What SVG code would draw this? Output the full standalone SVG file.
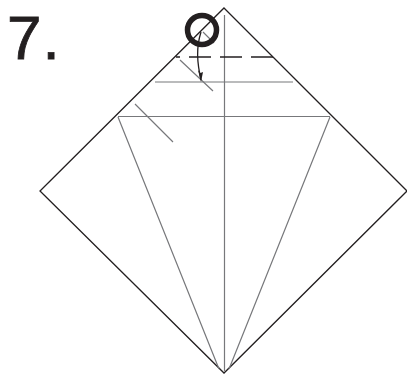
<svg xmlns="http://www.w3.org/2000/svg" width="407" height="374" viewBox="0 0 407 374">
<style>
.o{fill:none;stroke:#231f20;stroke-width:1.3}
.g{fill:none;stroke:#77787b;stroke-width:1.2}
</style>
<rect width="407" height="374" fill="#fff"/>
<g id="connectors">
<path id="outline" class="o" d="M224 8L407 191L224 373L40 191Z"/>
<path class="g" d="M224.500 15V371M118 116.500H330M155 82H293"/>
<path class="g" d="M118 117L219 369M330 117L229 369"/>
<path class="g" d="M135 104L173 142M180 60L213 91M203 32L214 43"/>
<path class="o" d="M176 57H180M189 57H211M220 57H242M251 57H273"/>
<path class="o" d="M201 32C196 48 197 62 201 80"/>
<path fill="#231f20" d="M201 82L198 70L200.500 73L203 72Z"/>
</g>
<g id="circle"><circle cx="202" cy="30" r="14.500" fill="none" stroke="#231f20" stroke-width="5.500"/></g>
<g id="label"><text x="7" y="58.500" font-family="Liberation Sans, Arial, sans-serif" font-size="62" letter-spacing="1" fill="#231f20" stroke="#231f20" stroke-width="0.8">7.</text></g>
</svg>
